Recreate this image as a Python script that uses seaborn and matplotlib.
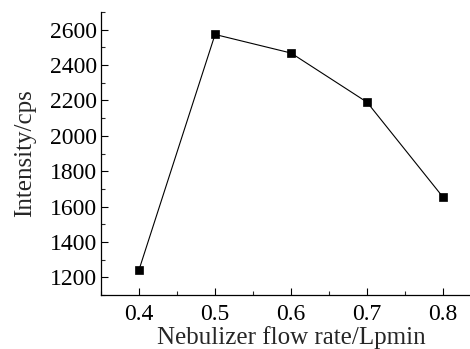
import matplotlib
matplotlib.use("Agg")
import matplotlib.pyplot as plt
import seaborn as sns
import pandas as pd
from matplotlib.ticker import MultipleLocator

flow_rate = [0.4, 0.5, 0.6, 0.7, 0.8]
intensity = [1243, 2573, 2468, 2190, 1653]

sns.set_style("ticks")
plt.rcParams['font.family'] = ['Liberation Serif', 'DejaVu Serif']
plt.rcParams['mathtext.fontset'] = 'stix'

df = pd.DataFrame({"x": flow_rate, "y": intensity})

fig = plt.figure(figsize=(4.70, 3.49), dpi=100)
ax = fig.add_axes([0.215, 0.1547, 0.8085, 0.8109])
sns.lineplot(data=df, x="x", y="y", ax=ax, color="black", linewidth=0.8,
             marker="s", markersize=5.5, markeredgecolor="black",
             markeredgewidth=0.5, markerfacecolor="black")

ax.set_xlim(0.35, 0.85)
ax.set_ylim(1100, 2700)
ax.xaxis.set_major_locator(MultipleLocator(0.1))
ax.xaxis.set_minor_locator(MultipleLocator(0.05))
ax.yaxis.set_major_locator(MultipleLocator(200))
ax.yaxis.set_minor_locator(MultipleLocator(100))
ax.set_xticks(flow_rate)
ax.set_xticklabels([f"{v:.1f}" for v in flow_rate])

for s in ["top", "right"]:
    ax.spines[s].set_visible(False)
for s in ["left", "bottom"]:
    ax.spines[s].set_linewidth(0.9)
    ax.spines[s].set_color("black")

ax.tick_params(which="major", direction="in", length=5, width=0.8, labelsize=17,
               colors="black", pad=3)
ax.tick_params(axis="x", which="major", pad=6.5)
ax.tick_params(which="minor", direction="in", length=3, width=0.8)
ax.set_xlabel("Nebulizer flow rate/Lpmin", fontsize=18, labelpad=1)
ax.set_ylabel("Intensity/cps", fontsize=18, labelpad=10)

fig.savefig("out.png", dpi=100)
